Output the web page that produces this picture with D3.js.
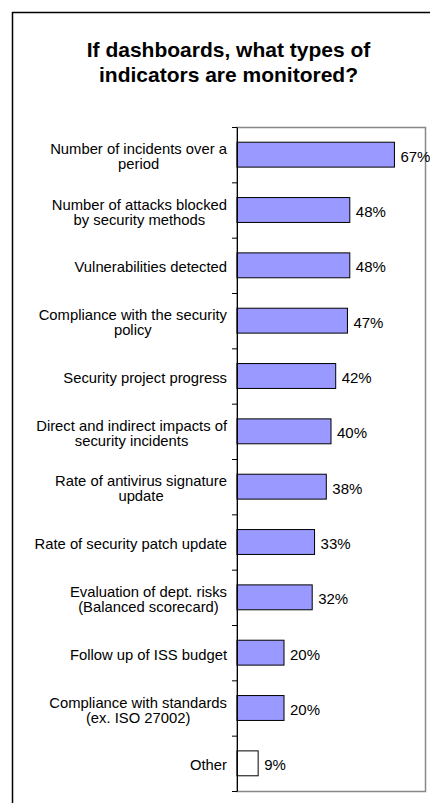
<!DOCTYPE html>
<html lang="en">
<head>
    <meta charset="UTF-8">
    <title>If dashboards, what types of indicators are monitored?</title>
    <script src="https://cdn.jsdelivr.net/npm/d3@7/dist/d3.min.js"></script>
    <style>
        body { margin: 0; background: #fff; }
        svg { display: block; font-family: "Liberation Sans", Arial, sans-serif; }
    </style>
</head>
<body>
    <div id="chart"></div>

    <script>
        // data
        const categories = [
            "Number of incidents over a\nperiod",
            "Number of attacks blocked\nby security methods",
            "Vulnerabilities detected",
            "Compliance with the security\npolicy",
            "Security project progress",
            "Direct and indirect impacts of\nsecurity incidents",
            "Rate of antivirus signature\nupdate",
            "Rate of security patch update",
            "Evaluation of dept. risks\n(Balanced scorecard)",
            "Follow up of ISS budget",
            "Compliance with standards\n(ex. ISO 27002)",
            "Other"
        ];
        const values = [67, 48, 48, 47, 42, 40, 38, 33, 32, 20, 20, 9];
        const titleLines = ["If dashboards, what types of", "indicators are monitored?"];

        const width = 430, height = 803;
        const svg = d3.select("#chart").append("svg")
            .attr("width", width).attr("height", height);

        // outer chart frame (runs off the right / bottom edge)
        svg.append("rect")
            .attr("x", 12.5).attr("y", 12.5)
            .attr("width", 460).attr("height", 830)
            .attr("fill", "#fff").attr("stroke", "#000").attr("stroke-width", 1.5);

        // title
        svg.append("text")
            .attr("x", 228.5).attr("y", 57)
            .attr("text-anchor", "middle")
            .attr("font-size", "21px").attr("font-weight", "bold")
            .selectAll("tspan")
            .data(titleLines)
            .join("tspan")
            .attr("x", 228.5)
            .attr("dy", (d, i) => i === 0 ? 0 : 25)
            .text(d => d);

        // plot area
        const plot = {left: 237, right: 425, top: 127, bottom: 791};

        const x = d3.scaleLinear().domain([0, 80]).range([plot.left, plot.right]);
        const y = d3.scaleBand()
            .domain(categories)
            .range([plot.top, plot.bottom])
            .paddingInner(0.55)
            .paddingOuter(0.275);

        svg.append("rect")
            .attr("x", plot.left).attr("y", plot.top + 0.5)
            .attr("width", plot.right - plot.left + 0.5)
            .attr("height", plot.bottom - plot.top)
            .attr("fill", "none").attr("stroke", "#888").attr("stroke-width", 1.5);

        // bars
        svg.append("g")
            .selectAll("rect")
            .data(categories)
            .join("rect")
            .attr("x", x(0))
            .attr("y", d => y(d))
            .attr("width", (d, i) => x(values[i]) - x(0))
            .attr("height", y.bandwidth())
            .attr("fill", d => d === "Other" ? "#fff" : "#9999ff")
            .attr("stroke", "#000").attr("stroke-width", 1);

        // left axis, ticks between categories
        const yEdge = d3.scaleLinear().domain([0, categories.length]).range([plot.top, plot.bottom]);
        const axis = svg.append("g")
            .attr("transform", `translate(${plot.left},0)`)
            .call(d3.axisLeft(yEdge)
                .tickValues(d3.range(categories.length + 1))
                .tickFormat("")
                .tickSize(5)
                .tickSizeOuter(0));
        axis.select(".domain").attr("stroke", "#000");
        axis.selectAll(".tick line").attr("stroke", "#000");

        const center = d => y(d) + y.bandwidth() / 2;

        // category labels: lines centred on each other, block right-aligned
        const labelRight = plot.left - 10;
        svg.append("g")
            .selectAll("text")
            .data(categories)
            .join("text")
            .attr("text-anchor", "middle")
            .attr("font-size", "14.8px")
            .attr("fill", "#000")
            .each(function (d) {
                const lines = d.split("\n");
                const t = d3.select(this);
                const spans = t.selectAll("tspan")
                    .data(lines)
                    .join("tspan")
                    .attr("y", (l, i) => center(d) + 7 + (i - (lines.length - 1) / 2) * 15)
                    .text(l => l);
                let w = 0;
                spans.each(function () { w = Math.max(w, this.getComputedTextLength()); });
                spans.attr("x", labelRight - w / 2);
            });

        // value labels
        svg.append("g")
            .selectAll("text")
            .data(categories)
            .join("text")
            .attr("x", (d, i) => x(values[i]) + 6)
            .attr("y", d => center(d) + 7)
            .attr("font-size", "15px")
            .attr("fill", "#000")
            .text((d, i) => values[i] + "%");
    </script>
</body>
</html>
